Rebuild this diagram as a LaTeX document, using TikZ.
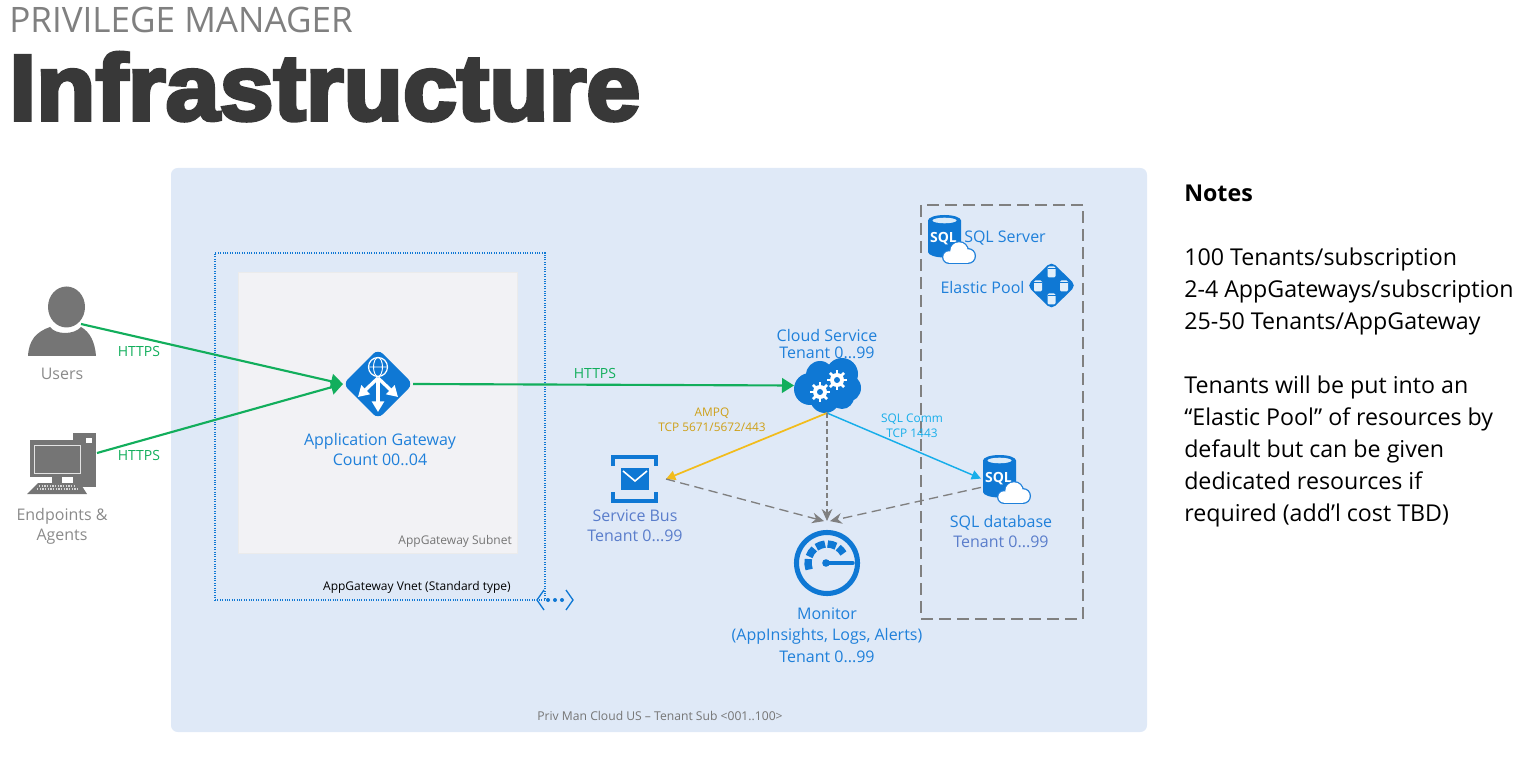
\documentclass[tikz,border=0pt]{standalone}
\usepackage{fontspec}
\setmainfont{Open Sans}
\newfontfamily\titlefont[FakeBold=4]{Liberation Sans Bold}
\usepackage{xcolor}
\usetikzlibrary{shapes.geometric,arrows.meta}
\definecolor{azure}{HTML}{0F78D4}
\definecolor{azuretext}{HTML}{1F80DA}
\definecolor{bustext}{HTML}{5A7DCB}
\definecolor{panelblue}{HTML}{DFE9F7}
\definecolor{subnetgrey}{HTML}{F2F2F5}
\definecolor{httpsgreen}{HTML}{12AE5C}
\definecolor{amqpyellow}{HTML}{F2BC1C}
\definecolor{sqlcyan}{HTML}{17AEEA}
\definecolor{icongrey}{HTML}{757575}
\definecolor{dashgrey}{HTML}{808080}
\tikzset{
  iconbox/.style 2 args={minimum width=#1*.75pt,minimum height=#2*.75pt,inner sep=0pt,outer sep=0pt},
  bluetext/.style={text=azuretext,align=center,inner sep=0pt,font=\fontsize{12}{15}\selectfont},
  tagtext/.style={inner sep=0pt,align=center,font=\fontsize{10.5}{11}\selectfont},
  greenflow/.style={draw=httpsgreen,line width=1.6pt,-{Triangle[length=9pt,width=11pt]}},
  greyflow/.style={draw=dashgrey,line width=1pt,dash pattern=on 7pt off 4pt,-{Stealth[length=9pt,width=8pt]}}
}
% cylinder with small cloud, top left corner of the cylinder at #1,#2
\newcommand{\sqlicon}[2]{
  \begin{scope}[shift={(#1,#2)}]
    \fill[azure] (0,5.5) -- (0,37) arc[start angle=180,end angle=0,x radius=16.5,y radius=5.5] -- (33,5.5) arc[start angle=0,end angle=-180,x radius=16.5,y radius=5.5] -- cycle;
    \fill[white!85!azure] (16.5,5.5) ellipse [x radius=12,y radius=2.8];
    \node[text=white,inner sep=0pt,font=\fontsize{10.5}{11}\bfseries\selectfont] at (15.5,24) {SQL};
    \fill[azuretext] (21,42) circle (7) (31,36) circle (10) (40,41) circle (8);
    \fill[azuretext] (21,41) rectangle (40,49);
    \fill[white] (21,42) circle (5.7) (31,36) circle (8.7) (40,41) circle (6.7);
    \fill[white] (21,41) rectangle (40,47.7);
  \end{scope}
}
\newcommand{\gearicon}[2]{
  \begin{scope}[shift={(#1,#2)}]
    \fill[white] (0,0) circle (7);
    \foreach \a in {0,45,...,315} \draw[white,line width=2pt] (0,0) -- (\a:10);
    \fill[azure] (0,0) circle (3);
  \end{scope}
}
\begin{document}
\begin{tikzpicture}[x=.75pt,y=-.75pt]
    \useasboundingbox (0,0) rectangle (1529,759);
    % Heading
    \node[anchor=base west,inner sep=0pt,text=gray,font=\fontsize{26.3}{28}\selectfont] (kicker) at (9,33) {PRIVILEGE MANAGER};
    \node[anchor=base west,inner sep=0pt,text=black!78,xscale=1.04,font=\fontsize{70}{72}\titlefont] (heading) at (9,120) {Infrastructure};
    % Tenant panel
    \node[fill=panelblue,rounded corners=5pt,iconbox={976}{564}] (panel) at (659,450) {};
    \node[fill=subnetgrey,draw=white!92!black,iconbox={279}{281}] (subnet) at (377.5,412.5) {};
    \node[draw=azure,densely dotted,line width=.8pt,iconbox={330}{347}] (vnet) at (380,426.5) {};
    \node[draw=dashgrey,line width=1.1pt,dash pattern=on 9pt off 4.5pt,iconbox={162}{414}] (sqlzone) at (1002,412) {};
    % Users
    \node[iconbox={38}{70}] (users) at (62,324) {};
    \fill[icongrey] (66.5,307) ellipse [x radius=18.5,y radius=20.5];
    \fill[icongrey] (28,356) .. controls (29,340) and (36,332) .. (50,327) .. controls (56,335) and (74,335) .. (81,327) .. controls (90,332) and (95,342) .. (96,356) -- cycle;
    % Endpoints
    \node[iconbox={70}{82}] (endpoints) at (62,453) {};
    \fill[icongrey] (73,433) rectangle (96,487);
    \fill[white] (86,438) rectangle (92,443);
    \fill[icongrey] (30,440) rectangle (82,477);
    \draw[white!80!icongrey,line width=.6pt] (34,445) rectangle (80,473);
    \fill[icongrey] (52,477) rectangle (62,483);
    \fill[white] (62,477) rectangle (73,483);
    \fill[icongrey] (38,483) -- (80,483) -- (87,494) -- (27,494) -- cycle;
    \draw[white!70!icongrey,line width=1pt,densely dotted] (39,486) -- (76,486);
    \draw[white!70!icongrey,line width=1pt,densely dotted] (37,489) -- (78,489);
    % Application gateway
    \node[diamond,fill=azure,rounded corners=5pt,iconbox={70}{70}] (gateway) at (378,384) {};
    \draw[white,line width=.9pt] (378,367) circle (9.5);
    \draw[white,line width=.7pt] (378,367) ellipse [x radius=4.5,y radius=9.5] (368.5,367) -- (387.5,367);
    \draw[white,line width=2.5pt,-{Triangle[length=8pt,width=9pt]}] (378,378) -- (378,412);
    \draw[white,line width=2.5pt,-{Triangle[length=8pt,width=9pt]}] (378,378) -- (358,397);
    \draw[white,line width=2.5pt,-{Triangle[length=8pt,width=9pt]}] (378,378) -- (398,397);
    % Cloud service
    \node[iconbox={66}{55}] (cloudsvc) at (827,385.5) {};
    \fill[azure] (810,389) circle (16) (820,375) circle (14) (842,374) circle (16) (847,388) circle (14) (825,398) circle (15) (842,397) circle (12);
    \gearicon{820}{392}
    \gearicon{837}{380}
    % Service bus
    \node[iconbox={64}{48}] (bus) at (634,479) {};
    \draw[azure,line width=3.6pt] (613,466) -- (613,457) -- (656,457) -- (656,466);
    \draw[azure,line width=3.6pt] (613,492) -- (613,501) -- (656,501) -- (656,492);
    \fill[azure] (621,468) rectangle (649,490);
    \draw[white,line width=1.2pt] (623,471) -- (635,481) -- (647,471);
    % SQL database and server
    \node[iconbox={50}{56}] (sqldb) at (1006,483) {};
    \sqlicon{983}{455}
    \sqlicon{928}{215}
    % Elastic pool
    \node[diamond,fill=azure,rounded corners=4pt,iconbox={49}{48}] (pool) at (1051.5,285.5) {};
    \foreach \cx/\cy in {1051.5/272,1038/286,1064/286,1051.5/299}{
      \fill[white!88!azure,rounded corners=1pt] (\cx-4,\cy-5.5) rectangle (\cx+4,\cy+5.5);
      \draw[azure,line width=.5pt] (\cx-4,\cy-3.5) -- (\cx+4,\cy-3.5);
    }
    % Monitor
    \node[circle,iconbox={84}{84}] (monitor) at (827,563) {};
    \draw[azure,line width=3.8pt] (827,563) circle (30.5);
    \foreach \a/\b in {200/168,160/132,124/96,88/62,54/30}
      \draw[azure,line width=5.5pt] (827,563) ++(-\a:19) arc[start angle=-\a,end angle=-\b,radius=19];
    \fill[azure] (826,563) circle (3.8);
    \draw[azure,line width=2.6pt,line cap=round] (826,563) -- (853,563);
    % Vnet marker
    \node[iconbox={36}{22}] (vnetmark) at (555,600) {};
    \draw[azure,line width=1pt] (544,590) -- (537,600) -- (544,610);
    \draw[azure,line width=1pt] (566,590) -- (573,600) -- (566,610);
    \foreach \cx in {548,555,562} \fill[azure] (\cx,600) circle (2);
    % Flows
    \draw[greenflow] (users.east) -- (gateway.west);
    \draw[greenflow] (endpoints.east) -- (gateway.west);
    \draw[greenflow] (gateway.east) -- (cloudsvc.west);
    \draw[draw=amqpyellow,line width=1.3pt,-{Triangle[length=7pt,width=7pt]}] (cloudsvc.south) -- (bus.east);
    \draw[draw=sqlcyan,line width=1.1pt,-{Triangle[length=7pt,width=7pt]}] (cloudsvc.south) -- (sqldb.170);
    \draw[greyflow,dash pattern=on 4pt off 2pt,line width=.8pt] (cloudsvc.south) -- (monitor.north);
    \draw[greyflow] (bus.east) -- (monitor.94);
    \draw[greyflow] (sqldb.190) -- (monitor.86);
    % Flow labels
    \node[tagtext,text=httpsgreen] (httpsa) at (139,352) {HTTPS};
    \node[tagtext,text=httpsgreen] (httpsb) at (139,455) {HTTPS};
    \node[tagtext,text=httpsgreen] (httpsc) at (595,374) {HTTPS};
    \node[tagtext,text=amqpyellow!85!black,font=\fontsize{8.9}{11}\selectfont] (amqplabel) at (712,420) {AMPQ\\TCP 5671/5672/443};
    \node[tagtext,text=sqlcyan,font=\fontsize{8.9}{11}\selectfont] (sqllabel) at (912,426) {SQL Comm\\TCP 1443};
    % Node labels
    \node[bluetext,text=icongrey!85] (userslabel) at (62,374) {Users};
    \node[bluetext,text=icongrey!85] (endpointslabel) at (62,526) {Endpoints \&\\Agents};
    \node[bluetext] (gatewaylabel) at (380,450) {Application Gateway\\Count 00..04};
    \node[bluetext,font=\fontsize{12}{13}\selectfont] (cloudlabel) at (827,344) {Cloud Service\\Tenant 0...99};
    \node[bluetext,text=bustext] (buslabel) at (635,526) {Service Bus\\Tenant 0...99};
    \node[bluetext,text=bustext] (sqldblabel) at (1001,532) {\textcolor{azuretext}{SQL database}\\Tenant 0...99};
    \node[bluetext,font=\fontsize{12}{16}\selectfont] (monitorlabel) at (827,635) {Monitor\\(AppInsights, Logs, Alerts)\\Tenant 0...99};
    \node[bluetext] (serverlabel) at (1005,238) {SQL Server};
    \node[bluetext] (poollabel) at (982.5,288) {Elastic Pool};
    \node[tagtext,anchor=east,text=icongrey,font=\fontsize{9}{10}\selectfont] (subnetlabel) at (512,541) {AppGateway Subnet};
    \node[tagtext,anchor=east,text=black,font=\fontsize{9}{10}\selectfont] (vnetlabel) at (511,587) {AppGateway Vnet (Standard type)};
    \node[tagtext,text=icongrey,font=\fontsize{9.1}{10}\selectfont] (panellabel) at (660,716) {Priv Man Cloud US – Tenant Sub <001..100>};
    % Notes
    \node[anchor=north west,inner sep=0pt,align=left,text=black,font=\fontsize{17.4}{24}\selectfont] (notes) at (1184,185) {\textbf{Notes}\\[24pt]100 Tenants/subscription\\2-4 AppGateways/subscription\\25-50 Tenants/AppGateway\\[24pt]Tenants will be put into an\\“Elastic Pool” of resources by\\default but can be given\\dedicated resources if\\required (add’l cost TBD)};
\end{tikzpicture}
\end{document}
